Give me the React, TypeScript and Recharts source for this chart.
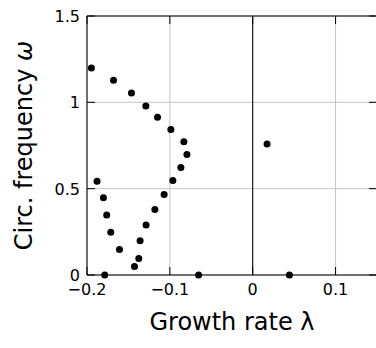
import React from "react";
import { ScatterChart, Scatter, XAxis, YAxis, CartesianGrid, ReferenceLine } from "recharts";

const growthRate = [
  -0.1947, -0.168, -0.1463, -0.129, -0.1149, -0.0988, -0.0831, -0.0794, -0.0867, -0.0964,
  -0.1069, -0.1181, -0.1287, -0.1359, -0.1375, -0.1427, -0.1608, -0.1713, -0.1762, -0.1802,
  -0.1879, -0.1786, -0.0653, 0.0173, 0.0443,
];
const circFrequency = [
  1.199, 1.128, 1.054, 0.979, 0.913, 0.843, 0.772, 0.698, 0.623, 0.547,
  0.466, 0.379, 0.29, 0.199, 0.095, 0.049, 0.147, 0.248, 0.348, 0.447,
  0.543, 0, 0, 0.758, 0,
];
const xTicks = [-0.2, -0.1, 0, 0.1];
const yTicks = [0, 0.5, 1, 1.5];

const points = growthRate.map((x, i) => ({ x, y: circFrequency[i] }));

const W = 378;
const H = 348;
const PLOT_LEFT = 87;
const PLOT_RIGHT = 377;
const PLOT_TOP = 16;
const PLOT_BOTTOM = 275;
const TICK = 8;
const FONT = "'DejaVu Sans', sans-serif";

const fmt = (v: number) => (v < 0 ? "\u2212" + String(-v) : String(v));

const XTick = (props: any) => {
  const { x, payload } = props;
  return (
    <g>
      <line x1={x} x2={x} y1={PLOT_BOTTOM} y2={PLOT_BOTTOM - TICK} stroke="#000" />
      <line x1={x} x2={x} y1={PLOT_TOP} y2={PLOT_TOP + TICK} stroke="#000" />
      <text x={x} y={295} textAnchor="middle" fontFamily={FONT} fontSize={16} fill="#000">
        {fmt(payload.value)}
      </text>
    </g>
  );
};

const YTick = (props: any) => {
  const { y, payload } = props;
  return (
    <g>
      <line x1={PLOT_LEFT} x2={PLOT_LEFT + TICK} y1={y} y2={y} stroke="#000" />
      <line x1={PLOT_RIGHT} x2={PLOT_RIGHT - TICK} y1={y} y2={y} stroke="#000" />
      <text x={80} y={y + 6} textAnchor="end" fontFamily={FONT} fontSize={16} fill="#000">
        {fmt(payload.value)}
      </text>
    </g>
  );
};

export default function App() {
  return (
    <div style={{ position: "absolute", left: 0, top: 0, width: 376, height: 348, overflow: "hidden", background: "#fff" }}>
      <ScatterChart width={W} height={H} margin={{ top: PLOT_TOP, right: W - PLOT_RIGHT, bottom: 0, left: 0 }}>
        <CartesianGrid stroke="#c4c4c4" strokeWidth={1} />
        <XAxis
          type="number"
          dataKey="x"
          domain={[-0.2, 0.15]}
          ticks={xTicks}
          height={H - PLOT_BOTTOM}
          tickLine={false}
          tickSize={0}
          axisLine={{ stroke: "#000" }}
          tick={<XTick />}
          interval={0}
          label={{
            content: (p: any) => (
              <text
                x={p.viewBox.x + p.viewBox.width / 2}
                y={330}
                textAnchor="middle"
                fontFamily={FONT}
                fontSize={24}
                fill="#000"
              >
                Growth rate λ
              </text>
            ),
          }}
        />
        <YAxis
          type="number"
          dataKey="y"
          domain={[0, 1.5]}
          ticks={yTicks}
          width={PLOT_LEFT}
          tickLine={false}
          tickSize={0}
          axisLine={{ stroke: "#000" }}
          tick={<YTick />}
          interval={0}
          label={{
            content: (p: any) => {
              const cy = p.viewBox.y + p.viewBox.height / 2;
              return (
                <text
                  x={32}
                  y={cy}
                  transform={`rotate(-90, 32, ${cy})`}
                  textAnchor="middle"
                  fontFamily={FONT}
                  fontSize={24}
                  fill="#000"
                >
                  Circ. frequency <tspan fontStyle="italic">ω</tspan>
                </text>
              );
            },
          }}
        />
        <ReferenceLine x={0} stroke="#000" strokeWidth={1} />
        <ReferenceLine y={1.5} stroke="#000" strokeWidth={1} />
        <Scatter data={points} fill="#000" isAnimationActive={false} shape={(p: any) => <circle cx={p.cx} cy={p.cy} r={3.5} fill="#000" />} />
      </ScatterChart>
    </div>
  );
}
